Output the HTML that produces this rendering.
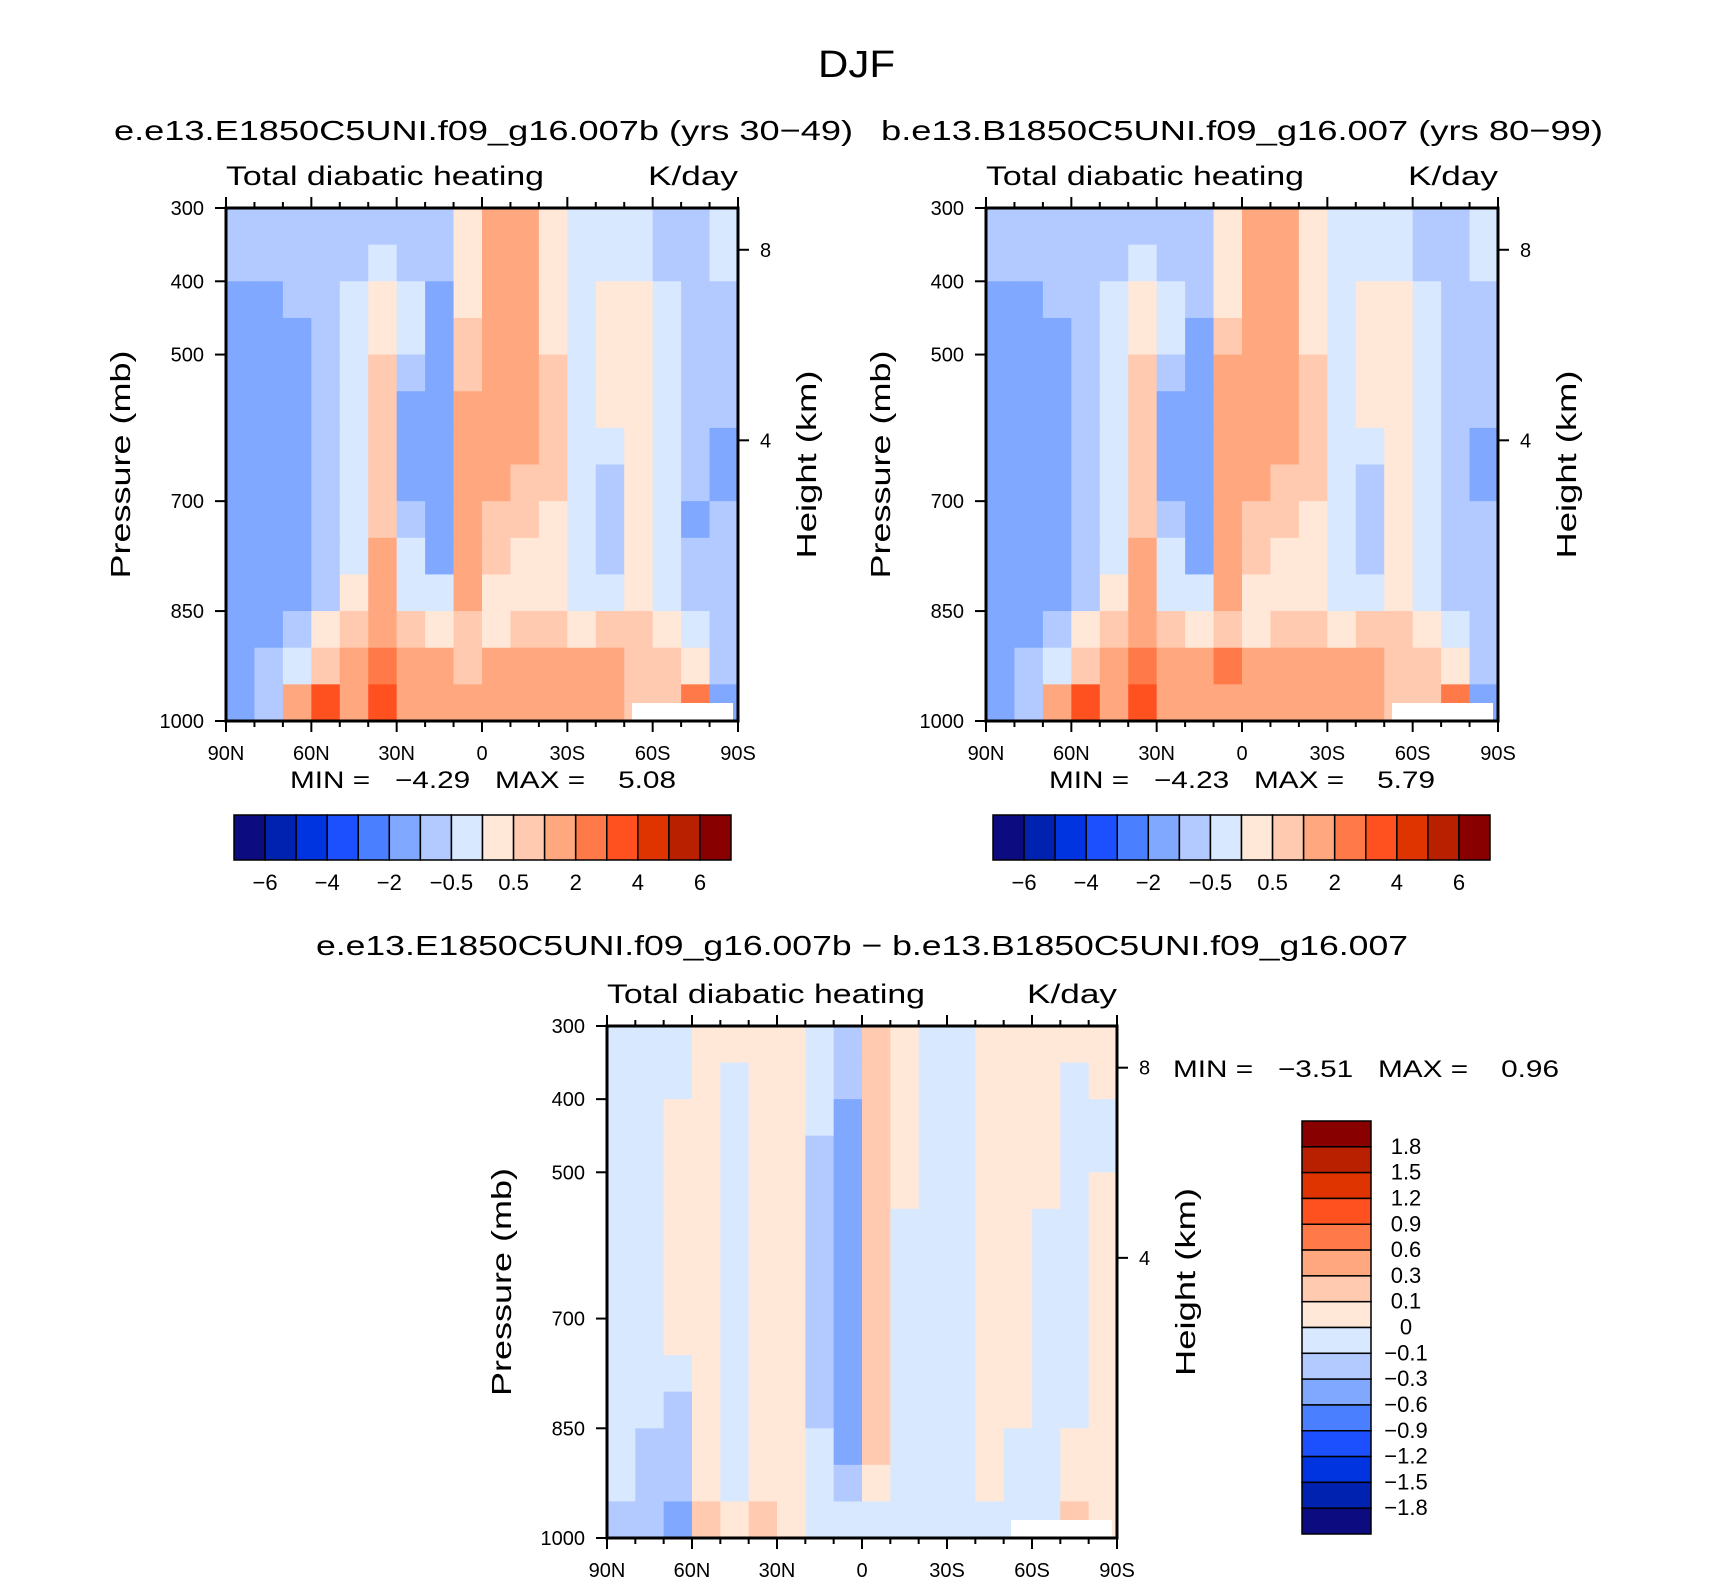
<!DOCTYPE html>
<html><head><meta charset="utf-8"><title>DJF Total diabatic heating</title>
<style>
html,body{margin:0;padding:0;background:#fff;}
svg{display:block;font-family:"Liberation Sans",sans-serif;}
text{white-space:pre;}
</style></head>
<body>
<svg id="fig" width="1710" height="1581" viewBox="0 0 1710 1581" xmlns="http://www.w3.org/2000/svg">
<text x="818" y="77" font-size="38" textLength="77" lengthAdjust="spacingAndGlyphs">DJF</text>
<text x="114" y="140" font-size="28" textLength="739" lengthAdjust="spacingAndGlyphs">e.e13.E1850C5UNI.f09_g16.007b (yrs 30−49)</text>
<text x="881" y="140" font-size="28" textLength="722" lengthAdjust="spacingAndGlyphs">b.e13.B1850C5UNI.f09_g16.007 (yrs 80−99)</text>
<text x="316" y="955" font-size="28" textLength="1092" lengthAdjust="spacingAndGlyphs">e.e13.E1850C5UNI.f09_g16.007b − b.e13.B1850C5UNI.f09_g16.007</text>
<g id="layer"></g>
</svg>
<script>
const mainLevels = [-6,-5,-4,-3,-2,-1,-0.5,0,0.5,1,2,3,4,5,6];
const diffLevels = [-1.8,-1.5,-1.2,-0.9,-0.6,-0.3,-0.1,0,0.1,0.3,0.6,0.9,1.2,1.5,1.8];
const mainTickLabels = ["−6","−4","−2","−0.5","0.5","2","4","6"];
const diffTickLabels = ["1.8","1.5","1.2","0.9","0.6","0.3","0.1","0","−0.1","−0.3","−0.6","−0.9","−1.2","−1.5","−1.8"];
const latTickLabels = ["90N","60N","30N","0","30S","60S","90S"];
const latTicks = [90,60,30,0,-30,-60,-90];
const presTicks = [300,400,500,700,850,1000];
const heightTicks = [8,4];
const heightTickPres = [357,617];
const colLats = [85,75,65,55,45,35,25,15,5,-5,-15,-25,-35,-45,-55,-65,-75,-85];
const rowPres = [325,375,425,475,525,575,625,675,725,775,825,875,925,975];
const palette = ["#0c0c80","#0022b0","#0034e0","#1c50ff","#4a80ff","#80a8ff","#b2caff","#d8e8ff","#ffe8d8","#ffcab0","#ffa880","#ff7a48","#ff5020","#e03400","#b82000","#880000"];

const panel1Values = [
[-0.8,-0.8,-0.8,-0.8,-0.8,-0.8,-0.8,-0.8,0.3,1.5,1.5,0.3,-0.3,-0.3,-0.3,-0.8,-0.8,-0.3],
[-0.8,-0.8,-0.8,-0.8,-0.8,-0.3,-0.8,-0.8,0.3,1.5,1.5,0.3,-0.3,-0.3,-0.3,-0.8,-0.8,-0.3],
[-1.5,-1.5,-0.8,-0.8,-0.3,0.3,-0.3,-1.5,0.3,1.5,1.5,0.3,-0.3,0.3,0.3,-0.3,-0.8,-0.8],
[-1.5,-1.5,-1.5,-0.8,-0.3,0.3,-0.3,-1.5,0.7,1.5,1.5,0.3,-0.3,0.3,0.3,-0.3,-0.8,-0.8],
[-1.5,-1.5,-1.5,-0.8,-0.3,0.7,-0.8,-1.5,0.7,1.5,1.5,0.7,-0.3,0.3,0.3,-0.3,-0.8,-0.8],
[-1.5,-1.5,-1.5,-0.8,-0.3,0.7,-1.5,-1.5,1.5,1.5,1.5,0.7,-0.3,0.3,0.3,-0.3,-0.8,-0.8],
[-1.5,-1.5,-1.5,-0.8,-0.3,0.7,-1.5,-1.5,1.5,1.5,1.5,0.7,-0.3,-0.3,0.3,-0.3,-0.8,-1.5],
[-1.5,-1.5,-1.5,-0.8,-0.3,0.7,-1.5,-1.5,1.5,1.5,0.7,0.7,-0.3,-0.8,0.3,-0.3,-0.8,-1.5],
[-1.5,-1.5,-1.5,-0.8,-0.3,0.7,-0.8,-1.5,1.5,0.7,0.7,0.3,-0.3,-0.8,0.3,-0.3,-1.5,-0.8],
[-1.5,-1.5,-1.5,-0.8,-0.3,1.5,-0.3,-1.5,1.5,0.7,0.3,0.3,-0.3,-0.8,0.3,-0.3,-0.8,-0.8],
[-1.5,-1.5,-1.5,-0.8,0.3,1.5,-0.3,-0.3,1.5,0.3,0.3,0.3,-0.3,-0.3,0.3,-0.3,-0.8,-0.8],
[-1.5,-1.5,-0.8,0.3,0.7,1.5,0.7,0.3,0.7,0.3,0.7,0.7,0.3,0.7,0.7,0.3,-0.3,-0.8],
[-1.5,-0.8,-0.3,0.7,1.5,2.5,1.5,1.5,0.7,1.5,1.5,1.5,1.5,1.5,0.7,0.7,0.3,-0.8],
[-1.5,-0.8,1.5,3.5,1.5,3.5,1.5,1.5,1.5,1.5,1.5,1.5,1.5,1.5,0.7,0.7,2.5,-1.5]];

const panel2Values = [
[-0.8,-0.8,-0.8,-0.8,-0.8,-0.8,-0.8,-0.8,0.3,1.5,1.5,0.3,-0.3,-0.3,-0.3,-0.8,-0.8,-0.3],
[-0.8,-0.8,-0.8,-0.8,-0.8,-0.3,-0.8,-0.8,0.3,1.5,1.5,0.3,-0.3,-0.3,-0.3,-0.8,-0.8,-0.3],
[-1.5,-1.5,-0.8,-0.8,-0.3,0.3,-0.3,-0.8,0.3,1.5,1.5,0.3,-0.3,0.3,0.3,-0.3,-0.8,-0.8],
[-1.5,-1.5,-1.5,-0.8,-0.3,0.3,-0.3,-1.5,0.7,1.5,1.5,0.3,-0.3,0.3,0.3,-0.3,-0.8,-0.8],
[-1.5,-1.5,-1.5,-0.8,-0.3,0.7,-0.8,-1.5,1.5,1.5,1.5,0.7,-0.3,0.3,0.3,-0.3,-0.8,-0.8],
[-1.5,-1.5,-1.5,-0.8,-0.3,0.7,-1.5,-1.5,1.5,1.5,1.5,0.7,-0.3,0.3,0.3,-0.3,-0.8,-0.8],
[-1.5,-1.5,-1.5,-0.8,-0.3,0.7,-1.5,-1.5,1.5,1.5,1.5,0.7,-0.3,-0.3,0.3,-0.3,-0.8,-1.5],
[-1.5,-1.5,-1.5,-0.8,-0.3,0.7,-1.5,-1.5,1.5,1.5,0.7,0.7,-0.3,-0.8,0.3,-0.3,-0.8,-1.5],
[-1.5,-1.5,-1.5,-0.8,-0.3,0.7,-0.8,-1.5,1.5,0.7,0.7,0.3,-0.3,-0.8,0.3,-0.3,-0.8,-0.8],
[-1.5,-1.5,-1.5,-0.8,-0.3,1.5,-0.3,-1.5,1.5,0.7,0.3,0.3,-0.3,-0.8,0.3,-0.3,-0.8,-0.8],
[-1.5,-1.5,-1.5,-0.8,0.3,1.5,-0.3,-0.3,1.5,0.3,0.3,0.3,-0.3,-0.3,0.3,-0.3,-0.8,-0.8],
[-1.5,-1.5,-0.8,0.3,0.7,1.5,0.7,0.3,0.7,0.3,0.7,0.7,0.3,0.7,0.7,0.3,-0.3,-0.8],
[-1.5,-0.8,-0.3,0.7,1.5,2.5,1.5,1.5,2.5,1.5,1.5,1.5,1.5,1.5,0.7,0.7,0.3,-0.8],
[-1.5,-0.8,1.5,3.5,1.5,3.5,1.5,1.5,1.5,1.5,1.5,1.5,1.5,1.5,0.7,0.7,2.5,-1.5]];

const panel3Values = [
[-0.05,-0.05,-0.05,0.05,0.05,0.05,0.05,-0.05,-0.2,0.2,0.05,-0.05,-0.05,0.05,0.05,0.05,0.05,0.05],
[-0.05,-0.05,-0.05,0.05,-0.05,0.05,0.05,-0.05,-0.2,0.2,0.05,-0.05,-0.05,0.05,0.05,0.05,-0.05,0.05],
[-0.05,-0.05,0.05,0.05,-0.05,0.05,0.05,-0.05,-0.4,0.2,0.05,-0.05,-0.05,0.05,0.05,0.05,-0.05,-0.05],
[-0.05,-0.05,0.05,0.05,-0.05,0.05,0.05,-0.2,-0.4,0.2,0.05,-0.05,-0.05,0.05,0.05,0.05,-0.05,-0.05],
[-0.05,-0.05,0.05,0.05,-0.05,0.05,0.05,-0.2,-0.4,0.2,0.05,-0.05,-0.05,0.05,0.05,0.05,-0.05,0.05],
[-0.05,-0.05,0.05,0.05,-0.05,0.05,0.05,-0.2,-0.4,0.2,-0.05,-0.05,-0.05,0.05,0.05,-0.05,-0.05,0.05],
[-0.05,-0.05,0.05,0.05,-0.05,0.05,0.05,-0.2,-0.4,0.2,-0.05,-0.05,-0.05,0.05,0.05,-0.05,-0.05,0.05],
[-0.05,-0.05,0.05,0.05,-0.05,0.05,0.05,-0.2,-0.4,0.2,-0.05,-0.05,-0.05,0.05,0.05,-0.05,-0.05,0.05],
[-0.05,-0.05,0.05,0.05,-0.05,0.05,0.05,-0.2,-0.4,0.2,-0.05,-0.05,-0.05,0.05,0.05,-0.05,-0.05,0.05],
[-0.05,-0.05,-0.05,0.05,-0.05,0.05,0.05,-0.2,-0.4,0.2,-0.05,-0.05,-0.05,0.05,0.05,-0.05,-0.05,0.05],
[-0.05,-0.05,-0.2,0.05,-0.05,0.05,0.05,-0.2,-0.4,0.2,-0.05,-0.05,-0.05,0.05,0.05,-0.05,-0.05,0.05],
[-0.05,-0.2,-0.2,0.05,-0.05,0.05,0.05,-0.05,-0.4,0.2,-0.05,-0.05,-0.05,0.05,-0.05,-0.05,0.05,0.05],
[-0.05,-0.2,-0.2,0.05,-0.05,0.05,0.05,-0.05,-0.2,0.05,-0.05,-0.05,-0.05,0.05,-0.05,-0.05,0.05,0.05],
[-0.2,-0.3,-0.6,0.2,0.05,0.2,0.05,-0.05,-0.05,-0.05,-0.05,-0.05,-0.05,-0.05,-0.05,-0.05,0.2,0.05]];

const NS = "http://www.w3.org/2000/svg";
const layer = document.getElementById("layer");
function mk(tag, attrs, parent){
  const e = document.createElementNS(NS, tag);
  for (const k in attrs) e.setAttribute(k, attrs[k]);
  (parent||layer).appendChild(e);
  return e;
}
function colorFor(v, lv){ let i=0; while(i<lv.length && v>=lv[i]) i++; return palette[i]; }

function drawPanel(id, x0, x1, y0, y1, values, levels){
  const xS = lat => x0 + (90-lat)/180*(x1-x0);
  const yS = p => y0 + (p-300)/700*(y1-y0);
  const g = mk("g", {});
  
  
  for (let r=0;r<rowPres.length;r++){
    for (let c=0;c<colLats.length;c++){
      const v = values[r][c];
      const xa = xS(colLats[c]+5), xb = xS(colLats[c]-5);
      const ya = yS(rowPres[r]-25), yb = yS(rowPres[r]+25);
      const cell = mk("rect", {x:xa, y:ya, width:xb-xa+0.6, height:yb-ya+0.6, fill:colorFor(v, levels)}, g);
      
      
    }
  }
  const miss = mk("rect", {x:x1-106, y:y1-18, width:101, height:18, fill:"#fff"}, g);
  
  
  const frame = mk("rect", {x:x0, y:y0, width:x1-x0, height:y1-y0, fill:"none", stroke:"#000", "stroke-width":3}, g);
  
  
  for (let lat=90; lat>=-90; lat-=10){
    const major = lat%30===0, len = major?11:6, x = xS(lat);
    mk("line", {x1:x, y1:y1, x2:x, y2:y1+len, stroke:"#000", "stroke-width":2}, g);
    mk("line", {x1:x, y1:y0, x2:x, y2:y0-len, stroke:"#000", "stroke-width":2}, g);
  }
  latTicks.forEach((lat,i)=>{
    const t = mk("text", {x:xS(lat), y:y1+39, "font-size":20, "text-anchor":"middle"}, g);
    t.textContent = latTickLabels[i];
    
    
  });
  presTicks.forEach(p=>{
    const y = yS(p);
    mk("line", {x1:x0, y1:y, x2:x0-11, y2:y, stroke:"#000", "stroke-width":2}, g);
    const t = mk("text", {x:x0-22, y:y+7, "font-size":20, "text-anchor":"end"}, g);
    t.textContent = p;
    
    
  });
  heightTicks.forEach((h,i)=>{
    const y = yS(heightTickPres[i]);
    mk("line", {x1:x1, y1:y, x2:x1+11, y2:y, stroke:"#000", "stroke-width":2}, g);
    const t = mk("text", {x:x1+22, y:y+7, "font-size":20}, g);
    t.textContent = h;
    
    
  });
  const yc = (y0+y1)/2;
  const yt = mk("text", {x:-114, y:0, "font-size":28, textLength:228, lengthAdjust:"spacingAndGlyphs", transform:`translate(${x0-96},${yc}) rotate(-90)`}, g);
  yt.textContent = "Pressure (mb)";
  
  
  const ht = mk("text", {x:-94, y:0, "font-size":28, textLength:188, lengthAdjust:"spacingAndGlyphs", transform:`translate(${x1+78},${yc}) rotate(-90)`}, g);
  ht.textContent = "Height (km)";
  
  
  const lt = mk("text", {x:x0, y:y0-23, "font-size":27, textLength:318, lengthAdjust:"spacingAndGlyphs"}, g);
  lt.textContent = "Total diabatic heating";
  
  
  const ut = mk("text", {x:x1-90, y:y0-23, "font-size":27, textLength:90, lengthAdjust:"spacingAndGlyphs"}, g);
  ut.textContent = "K/day";
  
  
}

function horizColorbar(id, x, y, w, h, mn, mx){
  const g = mk("g", {});
  
  
  const bw = w/16;
  palette.forEach((c,i)=>{
    const b = mk("rect", {x:x+i*bw, y:y, width:bw, height:h, fill:c, stroke:"#000", "stroke-width":1.5}, g);
    
    
  });
  mainTickLabels.forEach((l,i)=>{
    const t = mk("text", {x:x+(2*i+1)*bw, y:y+h+30, "font-size":22, "text-anchor":"middle"}, g);
    t.textContent = l;
    
    
  });
  const m = mk("text", {x:x+56, y:y-27, "font-size":24, textLength:386, lengthAdjust:"spacingAndGlyphs"}, g);
  m.textContent = "MIN =   " + mn + "   MAX =    " + mx;
  
  
}

drawPanel("panel1-contour", 226, 738, 208, 721, panel1Values, mainLevels);
drawPanel("panel2-contour", 986, 1498, 208, 721, panel2Values, mainLevels);
drawPanel("panel3-contour", 607, 1117, 1026, 1538, panel3Values, diffLevels);
horizColorbar("panel1-colorbar", 234, 815, 497, 45, "−4.29", "5.08");
horizColorbar("panel2-colorbar", 993, 815, 497, 45, "−4.23", "5.79");

(function(){
  const g = mk("g", {});
  
  
  const x=1302, y=1121, w=69, h=413, bh=h/16;
  palette.slice().reverse().forEach((c,i)=>{
    const b = mk("rect", {x:x, y:y+i*bh, width:w, height:bh, fill:c, stroke:"#000", "stroke-width":1.5}, g);
    
    
  });
  diffTickLabels.forEach((l,i)=>{
    const t = mk("text", {x:1406, y:y+(i+1)*bh+7, "font-size":22, "text-anchor":"middle"}, g);
    t.textContent = l;
    
    
  });
  const m = mk("text", {x:1173, y:1077, "font-size":24, textLength:386, lengthAdjust:"spacingAndGlyphs"}, g);
  m.textContent = "MIN =   −3.51   MAX =    0.96";
  
  
})();
</script>
</body></html>
